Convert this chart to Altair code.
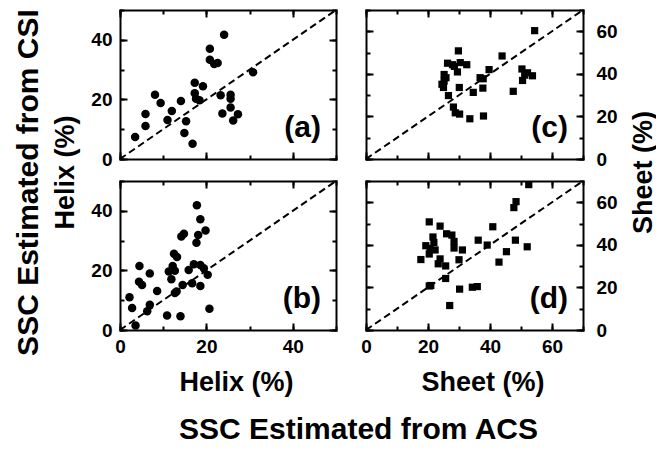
import altair as alt
import pandas as pd

# ---- data ----
a_x = [3.5, 5.9, 5.9, 8.1, 9.4, 11.0, 12.0, 14.1, 15.3, 14.9, 16.8, 17.3, 17.3, 17.6, 18.4,
       19.2, 20.8, 20.8, 21.8, 22.6, 24.1, 23.3, 23.7, 25.6, 25.6, 25.6, 26.2, 27.3, 30.8]
a_y = [7.4, 11.1, 15.1, 21.6, 18.8, 13.1, 16.1, 19.5, 12.7, 8.7, 5.1, 25.6, 22.1, 20.2, 19.7,
       24.4, 37.0, 33.3, 31.9, 32.2, 41.7, 21.4, 15.3, 21.6, 20.2, 17.3, 12.9, 15.0, 29.1]

b_x = [2.2, 2.8, 3.6, 4.5, 4.4, 5.1, 6.3, 6.9, 6.9, 8.6, 10.9, 11.3, 11.9, 12.2, 12.7, 12.5,
       13.2, 12.7, 13.1, 14.0, 14.2, 14.8, 14.5, 15.9, 16.7, 17.1, 17.7, 17.8, 18.1, 18.6,
       18.6, 18.6, 19.4, 19.8, 20.3, 20.7]
b_y = [11.0, 7.4, 1.5, 21.5, 16.2, 15.1, 6.3, 8.5, 19.0, 13.1, 4.9, 19.6, 17.0, 21.5, 19.9, 25.6,
       24.5, 12.4, 12.9, 4.6, 31.4, 32.3, 15.1, 20.1, 15.7, 22.1, 29.3, 41.9, 31.9, 37.2,
       21.8, 14.8, 20.7, 33.4, 18.5, 7.1]

c_x = [24.5, 25.2, 25.8, 25.0, 25.2, 26.3, 26.6, 28.2, 28.5, 29.5, 29.8, 30.4, 30.1, 28.8, 30.2,
       32.5, 33.5, 34.6, 36.8, 37.7, 37.9, 37.8, 39.7, 43.9, 47.5, 50.3, 50.5, 51.2, 52.1,
       53.7, 54.4, 27.9]
c_y = [35.1, 39.7, 38.2, 33.6, 36.6, 45.0, 29.8, 24.4, 43.5, 40.9, 50.8, 45.3, 33.6, 21.7, 21.1,
       44.3, 18.9, 31.3, 38.2, 33.3, 20.2, 37.7, 42.0, 48.4, 31.8, 42.3, 36.9, 39.4, 40.5,
       39.1, 60.3, 44.3]

d_x = [17.7, 19.3, 20.4, 20.4, 20.7, 20.4, 20.9, 21.6, 21.9, 22.3, 23.3, 23.9, 23.9, 25.7, 25.7,
       26.0, 27.0, 27.7, 28.4, 28.4, 30.0, 30.2, 31.1, 34.3, 35.9, 36.2, 39.1, 40.9, 42.9,
       45.3, 47.7, 48.4, 48.2, 52.0, 52.5]
d_y = [33.1, 39.6, 50.8, 35.7, 38.3, 20.7, 20.9, 43.7, 41.1, 37.6, 31.1, 48.8, 33.4, 30.1, 24.2,
       45.2, 11.5, 44.6, 41.6, 38.5, 33.0, 19.2, 37.6, 20.1, 20.4, 42.2, 39.9, 48.5, 31.9,
       36.8, 57.5, 60.3, 42.2, 39.1, 68.3]

helix_ticks = [0, 20, 40]
sheet_ticks = [0, 20, 40, 60]
helix_minor = [0, 10, 20, 30, 40, 50]
sheet_minor = [0, 10, 20, 30, 40, 50, 60, 70]
helix_max = 50
sheet_max = 70
panel_tags = ["(a)", "(b)", "(c)", "(d)"]
helix_title = "Helix (%)"
sheet_title = "Sheet (%)"
acs_title = "SSC Estimated from ACS"
csi_title = "SSC Estimated from CSI"

FONT = "Liberation Sans"
W_L, W_R, H, GAP_X, GAP_Y = 216, 217, 149, 30, 22
MID_Y = H + GAP_Y / 2


def title_kw(text, size, tx, ty, angle=0, baseline="alphabetic"):
    return dict(title=text, titleFont=FONT, titleFontSize=size, titleFontWeight="bold",
                titleColor="black", titleX=tx, titleY=ty, titleAngle=angle,
                titleAlign="center", titleBaseline=baseline)


def major_axis(orient, values, labels, pad, **extra):
    kw = dict(orient=orient, values=values, tickSize=7, offset=-7, domain=False, grid=False,
              labels=labels, labelPadding=pad, tickWidth=2, tickColor="black",
              labelFont=FONT, labelFontSize=19, labelFontWeight="bold", labelColor="black",
              labelFlush=False, labelOverlap=False, minExtent=0)
    if extra:
        kw.update(extra)
    else:
        kw.update(title=None)
    return alt.Axis(**kw)


def minor_axis(orient, values, **extra):
    kw = dict(orient=orient, values=values, tickSize=4, offset=-4, domain=False,
              grid=False, labels=False, tickWidth=2, tickColor="black", minExtent=0)
    if extra:
        kw.update(extra)
    else:
        kw.update(title=None)
    return alt.Axis(**kw)


def frame_axis(orient):
    return alt.Axis(orient=orient, domain=True, domainWidth=2, domainColor="black",
                    domainCap="square", ticks=False, labels=False, grid=False, title=None,
                    minExtent=0, offset=0)


def panel(xs, ys, dmax, major, minor, shape, size, side, tag, w,
          xmaj_extra=None, ymaj_extra=None, xmin_extra=None, ymin_extra=None,
          xlabels=False):
    df = pd.DataFrame({"x": xs, "y": ys})
    diag = pd.DataFrame({"x": [0, dmax], "y": [0, dmax]})
    sc = alt.Scale(domain=[0, dmax], nice=False, zero=False)
    other = "right" if side == "left" else "left"
    ypad = 8 if side == "left" else 13

    pts = alt.Chart(df).mark_point(shape=shape, filled=True, size=size, color="black",
                                   opacity=1).encode(
        x=alt.X("x:Q", scale=sc, axis=major_axis("bottom", major, xlabels, 7,
                                                  **(xmaj_extra or {}))),
        y=alt.Y("y:Q", scale=sc, axis=major_axis(side, major, True, ypad,
                                                  **(ymaj_extra or {}))),
    )
    line = alt.Chart(diag).mark_line(strokeDash=[7, 4], color="black", strokeWidth=2,
                                     clip=True).encode(
        x=alt.X("x:Q", scale=sc, axis=major_axis("top", major, False, 4)),
        y=alt.Y("y:Q", scale=sc, axis=major_axis(other, major, False, 4)),
    )
    pts_minor = alt.Chart(df).mark_point(opacity=0).encode(
        x=alt.X("x:Q", scale=sc, axis=minor_axis("bottom", minor, **(xmin_extra or {}))),
        y=alt.Y("y:Q", scale=sc, axis=minor_axis(side, minor, **(ymin_extra or {}))),
    )
    line_minor = alt.Chart(diag).mark_line(opacity=0).encode(
        x=alt.X("x:Q", scale=sc, axis=minor_axis("top", minor)),
        y=alt.Y("y:Q", scale=sc, axis=minor_axis(other, minor)),
    )
    frame_a = alt.Chart(df).mark_point(opacity=0).encode(
        x=alt.X("x:Q", scale=sc, axis=frame_axis("bottom")),
        y=alt.Y("y:Q", scale=sc, axis=frame_axis("left")),
    )
    frame_b = alt.Chart(diag).mark_line(opacity=0).encode(
        x=alt.X("x:Q", scale=sc, axis=frame_axis("top")),
        y=alt.Y("y:Q", scale=sc, axis=frame_axis("right")),
    )
    label = alt.Chart(pd.DataFrame({"t": [tag]})).mark_text(
        font=FONT, fontSize=30, fontWeight="bold", align="right", baseline="middle",
        color="black").encode(
        text="t:N", x=alt.value(w - 15), y=alt.value(H - 31))
    return alt.layer(pts, line, pts_minor, line_minor, frame_a, frame_b, label).resolve_axis(
        x="independent", y="independent").properties(width=w, height=H)


# panel (a): left y titles (Helix rotated, CSI rotated)
pa = panel(a_x, a_y, helix_max, helix_ticks, helix_minor, "circle", 72, "left",
           panel_tags[0], W_L,
           ymaj_extra=title_kw(helix_title, 27, -55 - 7, MID_Y + 2, 270, "middle"),
           ymin_extra=title_kw(csi_title, 30, -92 - 4, MID_Y + 12, 270, "middle"))
# panel (b): bottom Helix title and the ACS title
pb = panel(b_x, b_y, helix_max, helix_ticks, helix_minor, "circle", 72, "left",
           panel_tags[1], W_L, xlabels=True,
           xmaj_extra=title_kw(helix_title, 27, W_L / 2 + 8, 7 + 41 + 19),
           xmin_extra=title_kw(acs_title, 30, 238, 4 + 87 + 21.5))
# panel (c): right Sheet title
pc = panel(c_x, c_y, sheet_max, sheet_ticks, sheet_minor, "square", 52, "right",
           panel_tags[2], W_R,
           ymaj_extra=title_kw(sheet_title, 27, 277 - (W_R - 7), MID_Y + 2, 270, "middle"))
# panel (d): bottom Sheet title
pd_ = panel(d_x, d_y, sheet_max, sheet_ticks, sheet_minor, "square", 52, "right",
            panel_tags[3], W_R, xlabels=True,
            xmaj_extra=title_kw(sheet_title, 27, W_R / 2 + 8, 7 + 41 + 19))

chart = alt.concat(pa, pc, pb, pd_, columns=2, bounds="flush",
                   spacing={"row": GAP_Y, "column": GAP_X})

chart = chart.properties(
    padding={"left": 4, "top": 0, "right": 0, "bottom": 0},
    background="white",
).configure_view(stroke=None)

chart.save("out.html", embed_options={"renderer": "svg", "actions": False})
